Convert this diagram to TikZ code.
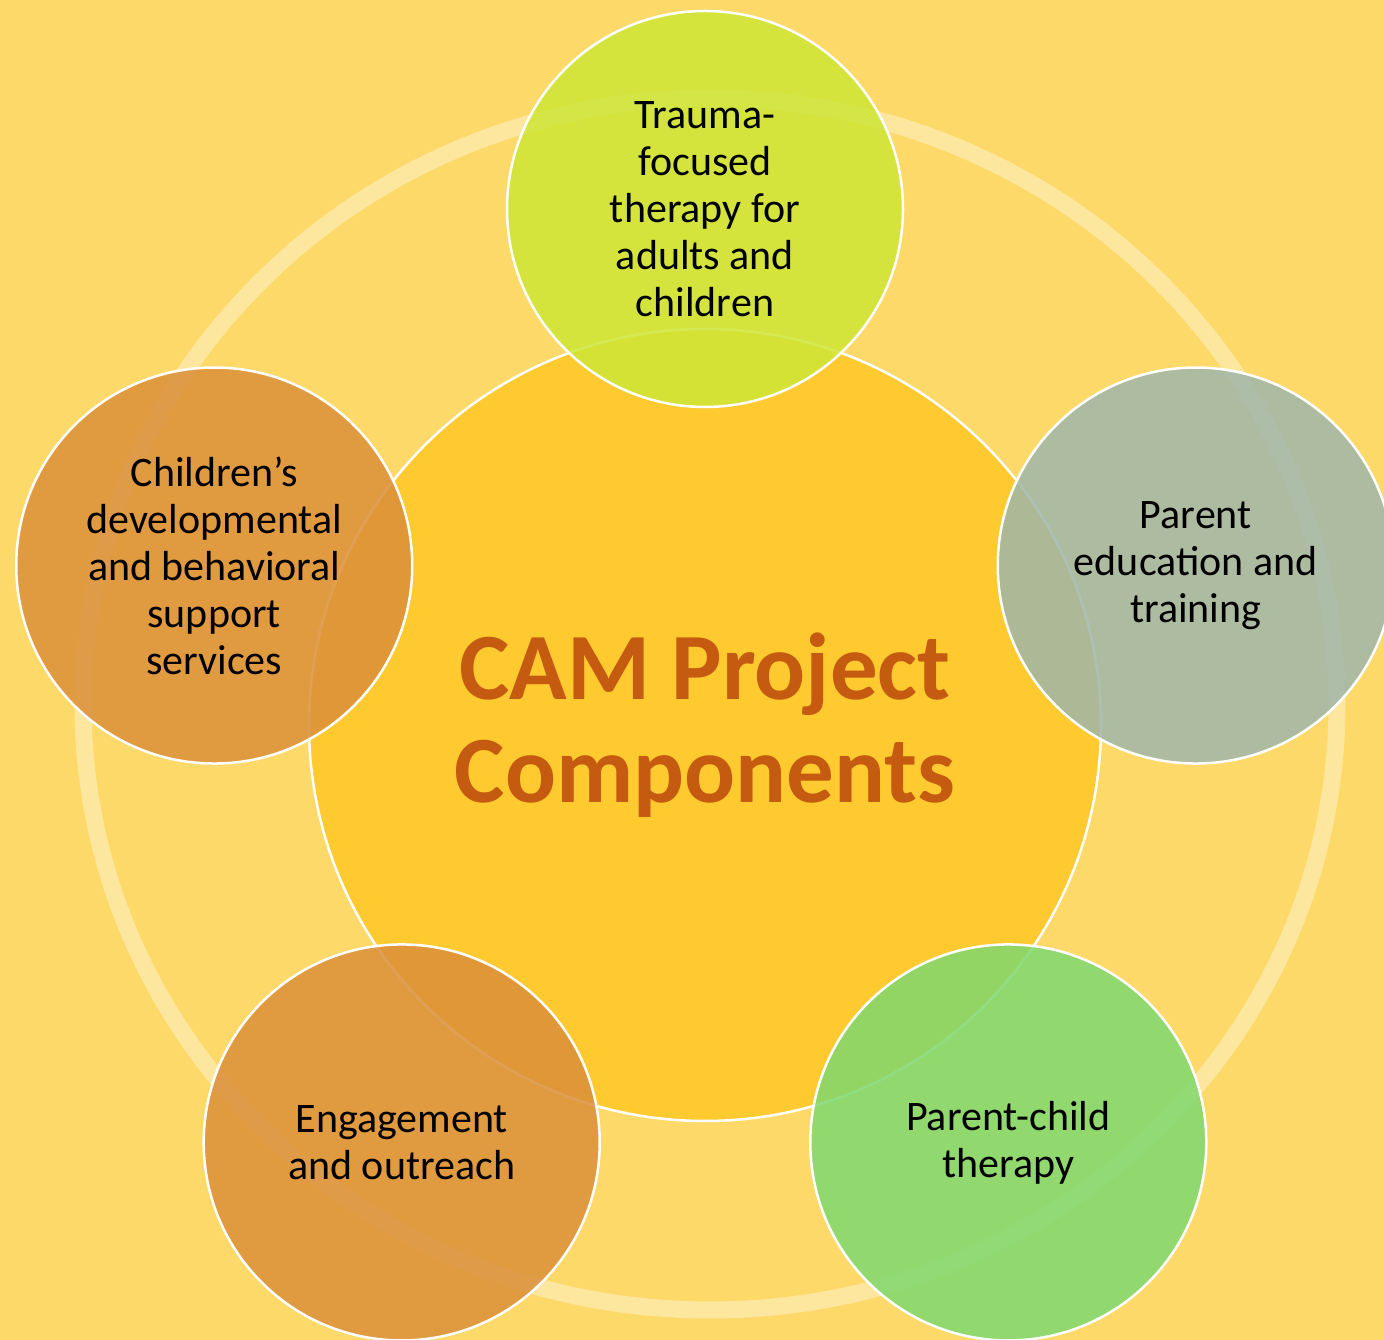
\documentclass[tikz,border=0pt]{standalone}
\usepackage{fontspec}
\setmainfont{Carlito}
\usetikzlibrary{calc}
\definecolor{bgyellow}{RGB}{253, 217, 106}
\definecolor{hubyellow}{RGB}{255, 201, 48}
\definecolor{softlime}{RGB}{205, 230, 54}
\definecolor{softsage}{RGB}{159, 182, 170}
\definecolor{softgreen}{RGB}{127, 216, 111}
\definecolor{softorange}{RGB}{219, 143, 57}
\definecolor{titleorange}{RGB}{197, 90, 17}

\begin{document}
\begin{tikzpicture}[
    x=1pt, y=1pt,
    font=\fontsize{42}{47}\selectfont,
    base/.style={
        circle,
        draw=white,
        line width=2.5pt,
        inner sep=0pt,
        align=center
    },
    hub/.style={
        base,
        minimum size=792pt,
        fill=hubyellow,
        text=titleorange,
        font=\bfseries\fontsize{95}{103}\selectfont
    },
    satellite/.style={
        base,
        minimum size=396pt,
        fill opacity=0.85,
        text opacity=1
    },
    ring/.style={draw=white, draw opacity=0.35, line width=17pt}
]

    % Background
    \useasboundingbox (0,0) rectangle (1384,1340);
    \clip (0,0) rectangle (1384,1340);
    \fill[bgyellow] (0,0) rectangle (1384,1340);
    \draw[ring] (710,636) ellipse [x radius=627, y radius=606];

    % Nodes
    \node[hub] (hub) at (705,615) {CAM Project\\Components};
    \node[satellite, fill=softlime] (trauma) at ($(hub)+(90:516)$) {Trauma-\\focused\\therapy for\\adults and\\children};
    \node[satellite, fill=softsage] (parent_edu) at ($(hub)+(18:516)$) {Parent\\education and\\training};
    \node[satellite, fill=softgreen] (parent_child) at ($(hub)+(-54:516)$) {Parent-child\\therapy};
    \node[satellite, fill=softorange] (engage) at ($(hub)+(-126:516)$) {Engagement\\and outreach};
    \node[satellite, fill=softorange] (children) at ($(hub)+(162:516)$) {Children’s\\developmental\\and behavioral\\support\\services};

\end{tikzpicture}
\end{document}
